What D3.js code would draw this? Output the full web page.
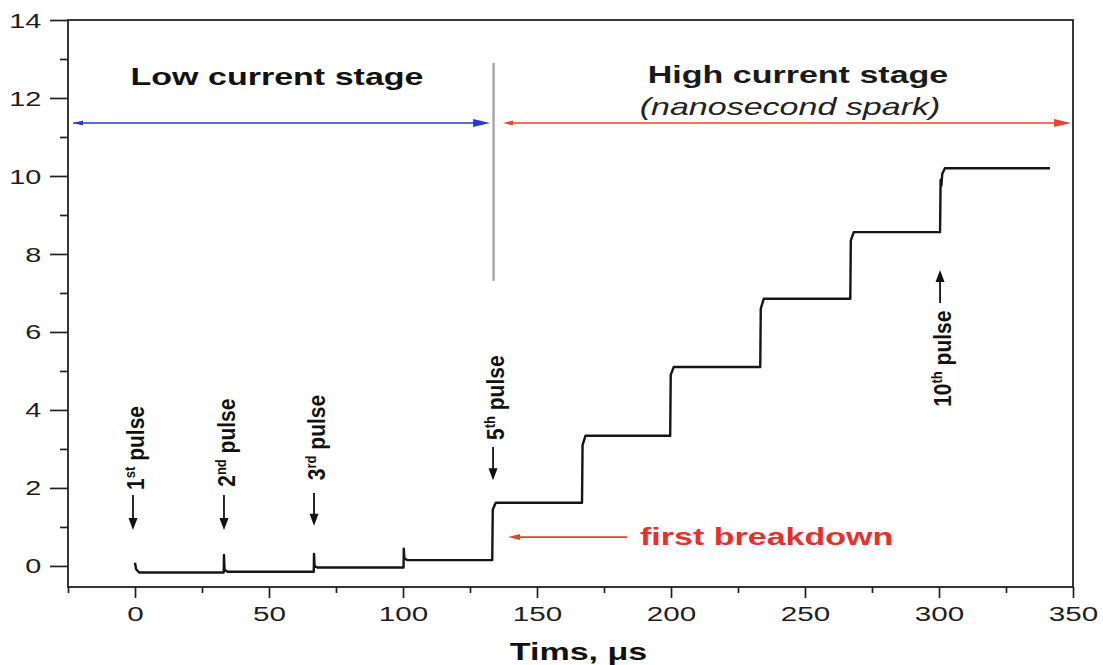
<!DOCTYPE html>
<html>
<head>
<meta charset="utf-8">
<script src="https://cdn.jsdelivr.net/npm/d3@7"></script>
<style>
  body { margin: 0; background: #fff; }
  svg { display: block; }
  text { font-family: "Liberation Sans", Arial, sans-serif; }
</style>
</head>
<body>
<svg width="1103" height="665"></svg>
<script>
// series: time (us) and level
var timeVals  = [0, 0.4, 1.5, 33.1, 33.2, 33.4, 34.5, 66.7, 66.8, 67.0, 68.0, 100.2, 100.3, 100.5, 101.5,
                 133.3, 133.5, 134.6, 166.8, 167.0, 168.1, 199.7, 199.9, 201.0, 233.3, 233.5, 234.6,
                 266.9, 267.1, 268.2, 300.4, 300.6, 300.9, 301.2, 302.2, 341.4];
var levelVals = [0.08, -0.08, -0.17, -0.17, 0.28, -0.1, -0.15, -0.15, 0.31, 0.0, -0.04, -0.04, 0.44, 0.2, 0.15,
                 0.15, 1.45, 1.62, 1.62, 3.1, 3.34, 3.34, 4.9, 5.1, 5.1, 6.6, 6.85,
                 6.85, 8.35, 8.56, 8.56, 9.9, 9.75, 10.05, 10.2, 10.2];

var xMajor = [0, 50, 100, 150, 200, 250, 300, 350];
var xMinor = [-25, 25, 75, 125, 175, 225, 275, 325];
var yMajor = [0, 2, 4, 6, 8, 10, 12, 14];
var yMinor = [1, 3, 5, 7, 9, 11, 13];

var pulseNums  = ["1", "2", "3", "5", "10"];
var pulseSups  = ["st", "nd", "rd", "th", "th"];
var pulseTimes = [-0.75, 33.2, 66.8, 133.6, 300.4];

var svg = d3.select("svg");
var plotL = 68, plotR = 1073, plotT = 20, plotB = 587;
var sx = 1.48; // the original figure is stretched sideways

var x = d3.scaleLinear().domain([-25, 350]).range([plotL, plotR]);
var y = d3.scaleLinear().domain([-0.54, 14]).range([plotB, plotT]);

// stretched horizontal text helper
function label(px, py, str, opt) {
    return svg.append("text")
        .attr("transform", "translate(" + px + "," + py + ") scale(" + sx + ",1)")
        .attr("text-anchor", opt.anchor || "middle")
        .style("font-size", opt.size + "px")
        .style("font-weight", opt.weight || "normal")
        .style("font-style", opt.style || "normal")
        .attr("fill", opt.color || "#222")
        .text(str);
}

function head(px, py, dir, len, half, color) {
    var p;
    if (dir == "right") p = [[px, py], [px - len, py - half], [px - len, py + half]];
    if (dir == "left")  p = [[px, py], [px + len, py - half], [px + len, py + half]];
    if (dir == "down")  p = [[px, py], [px - half, py - len], [px + half, py - len]];
    if (dir == "up")    p = [[px, py], [px - half, py + len], [px + half, py + len]];
    svg.append("path").attr("d", "M" + p.join("L") + "Z").attr("fill", color);
}

// axes
var xAxis = svg.append("g").attr("transform", "translate(0," + plotB + ")")
    .call(d3.axisBottom(x).tickValues(xMajor).tickSize(11).tickFormat(d3.format("d")));
xAxis.selectAll("text")
    .attr("y", 20).attr("dy", "0.71em")
    .attr("transform", "scale(" + sx + ",1)")
    .style("font-size", "20px").attr("fill", "#1e1e1e");
svg.append("g").attr("transform", "translate(0," + plotB + ")")
    .call(d3.axisBottom(x).tickValues(xMinor).tickSize(6).tickFormat(""));

var yAxis = svg.append("g").attr("transform", "translate(" + plotL + ",0)")
    .call(d3.axisLeft(y).tickValues(yMajor).tickSize(18).tickFormat(d3.format("d")));
yAxis.selectAll("text")
    .attr("x", -18).attr("dy", "0.36em")
    .attr("transform", "scale(" + sx + ",1)")
    .style("font-size", "19.5px").attr("fill", "#1e1e1e");
svg.append("g").attr("transform", "translate(" + plotL + ",0)")
    .call(d3.axisLeft(y).tickValues(yMinor).tickSize(8).tickFormat(""));

svg.selectAll(".domain").remove();
svg.selectAll(".tick line").attr("stroke", "#222").attr("stroke-width", 1.7);

svg.append("rect")
    .attr("x", plotL).attr("y", plotT)
    .attr("width", plotR - plotL).attr("height", plotB - plotT)
    .attr("fill", "none").attr("stroke", "#222").attr("stroke-width", 1.8);

label((plotL + plotR) / 2 + 8, 660, "Tims, \u03bcs", {size: 23, weight: "bold", color: "#111"});

// the signal
var pts = timeVals.map(function(t, i) { return [t, levelVals[i]]; });
var line = d3.line()
    .x(function(d) { return x(d[0]); })
    .y(function(d) { return y(d[1]); });
svg.append("path")
    .datum(pts)
    .attr("d", line)
    .attr("fill", "none")
    .attr("stroke", "#151515")
    .attr("stroke-width", 2.4)
    .attr("stroke-linejoin", "round");

// stage divider and arrows
svg.append("line")
    .attr("x1", x(133.8)).attr("x2", x(133.8))
    .attr("y1", y(12.9)).attr("y2", y(7.31))
    .attr("stroke", "#a8a8a8").attr("stroke-width", 2.5);

var ya = y(11.36);
svg.append("line").attr("x1", x(-23.1)).attr("x2", x(132.5) - 10)
    .attr("y1", ya).attr("y2", ya).attr("stroke", "#2a3ad0").attr("stroke-width", 1.6);
head(x(-23.1), ya, "left", 10, 2.5, "#2a3ad0");
head(x(132.5), ya, "right", 17, 4, "#2a3ad0");

svg.append("line").attr("x1", x(137.3) + 6).attr("x2", x(349.3) - 10)
    .attr("y1", ya).attr("y2", ya).attr("stroke", "#e4472c").attr("stroke-width", 1.6);
head(x(137.3), ya, "left", 10, 2.5, "#e4472c");
head(x(349.3), ya, "right", 17, 4, "#e4472c");

label(277, 85, "Low current stage", {size: 23, weight: "bold", color: "#111"});
label(798, 83, "High current stage", {size: 23, weight: "bold", color: "#1a1a1a"});
label(790, 115, "(nanosecond spark)", {size: 23, style: "italic", color: "#222"});

// first breakdown
var yb = y(0.74);
svg.append("line").attr("x1", x(139.2) + 8).attr("x2", x(183.6))
    .attr("y1", yb).attr("y2", yb).attr("stroke", "#e4472c").attr("stroke-width", 1.6);
head(x(139.2), yb, "left", 12, 3, "#e4472c");
label(640, 545, "first breakdown", {size: 23, weight: "bold", color: "#e8302a", anchor: "start"});

// pulse labels
var textBase = [1.95, 2.03, 2.2, 3.23, 4.08];
var arrFrom  = [1.82, 1.82, 1.87, 3.05, 6.74];
var arrTo    = [0.92, 0.92, 1.03, 2.2, 7.59];
pulseNums.forEach(function(n, i) {
    var ax = x(pulseTimes[i]);
    var t = svg.append("text")
        .attr("transform", "translate(" + (ax + 11) + "," + y(textBase[i]) + ") rotate(-90) scale(1,1.1)")
        .attr("xml:space", "preserve")
        .style("white-space", "pre")
        .style("font-size", "21px").style("font-weight", "bold")
        .attr("fill", "#111");
    t.append("tspan").text(n);
    t.append("tspan").attr("dy", -8).style("font-size", "13px").text(pulseSups[i]);
    t.append("tspan").attr("dy", 8).text(" pulse");

    var dir = arrTo[i] < arrFrom[i] ? "down" : "up";
    var y1 = y(arrFrom[i]), y2 = y(arrTo[i]);
    svg.append("line").attr("x1", ax).attr("x2", ax)
        .attr("y1", y1).attr("y2", dir == "down" ? y2 - 8 : y2 + 8)
        .attr("stroke", "#111").attr("stroke-width", 1.8);
    head(ax, y2, dir, 12, 4.5, "#111");
});
</script>
</body>
</html>
